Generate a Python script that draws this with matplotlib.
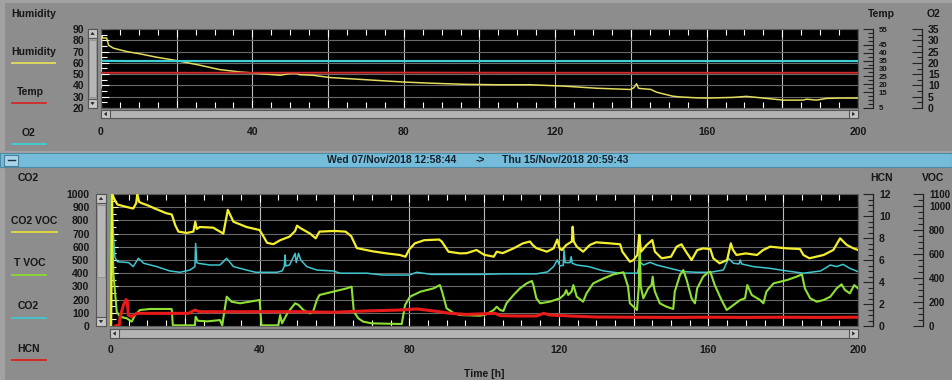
import matplotlib
matplotlib.use('Agg')
import matplotlib.pyplot as plt
from matplotlib.patches import Rectangle, Polygon
from matplotlib.lines import Line2D
from matplotlib.ticker import MultipleLocator, FixedLocator, FuncFormatter

W, H = 952, 380
plt.rcParams['font.family'] = ['Liberation Sans', 'DejaVu Sans']
plt.rcParams['font.weight'] = 'bold'
FS = 7.5
TXT = '#161616'

# ---------------- data (time in hours) ----------------
hum_t = [0, 0.15, 0.5, 1.5, 2, 3.3, 6.8, 10.3, 14.7, 20, 26, 31.4, 36.6, 43.7, 47.3, 50, 51.7,
         52.5, 56, 60.5, 69.3, 80, 87, 95.8, 104.6, 113.4, 122.2, 131, 139.9, 140.8, 141.5, 142,
         142.6, 145.2, 146.8, 148.7, 151, 153, 157.4, 160, 167, 170.5, 173.2, 177.6, 180.2, 185.5,
         186.4, 189, 191.7, 195.2, 200]
hum_v = [38, 84, 82, 82, 75.6, 73, 70, 68, 65, 62, 58, 54, 52, 50, 49, 50.6, 50.6,
         49.5, 49, 47, 45.2, 43, 42, 41, 40.6, 40.6, 39.4, 37.5, 36.4, 38, 41.5, 37.5,
         37.2, 36.5, 34, 32.4, 30.5, 29.8, 29, 28.8, 29.4, 30.3, 29.4, 27.9, 27, 27,
         27.8, 27, 28.5, 28.8, 28.8]

temp_t = [0, 40, 80, 120, 160, 200]
temp_v = [27.3, 27.3, 27.4, 27.3, 27.3, 27.3]

o2_t = [0, 6.5, 50, 100, 150, 200]
o2_v = [20.9, 20.8, 20.8, 20.8, 20.8, 20.8]

co2voc_t = [0.3, 0.6, 1.2, 2, 4, 6.2, 7, 7.3, 7.8, 8.5, 10, 12, 15, 16.5, 17.5, 18.3, 20.5, 22.3,
            22.8, 23.2, 24, 27.6, 30.3, 31.5, 33, 36.5, 40, 41, 42, 43.7, 45.5, 48, 49.5, 50, 51,
            53.5, 55, 56, 60, 63, 64.5, 66, 70.4, 74, 77.5, 79, 80, 81.5, 84, 88, 88.7, 90.5, 93.6,
            95.4, 98, 100, 102.6, 103.4, 105, 107.9, 110.4, 112.3, 113, 114, 116.8, 118.6, 119.6,
            120.2, 120.8, 122, 123.5, 123.7, 124, 124.8, 126.5, 128.3, 130, 133.7, 136.4, 137, 139,
            140, 141, 141.5, 142, 143.5, 145, 145.7, 147.5, 150, 151.5, 152.8, 154, 155.5, 157,
            158.6, 160.5, 161.3, 163, 165, 166, 166.5, 167.5, 170, 173, 174.6, 176.5, 181, 184.5,
            185.4, 187, 190.8, 193.4, 195.2, 197, 198.8, 200]
co2voc_v = [0, 1000, 960, 920, 905, 890, 930, 1000, 940, 930, 915, 890, 855, 845, 760, 715, 705, 715,
            790, 735, 750, 745, 700, 880, 790, 750, 727, 680, 630, 620, 650, 677, 720, 760, 740,
            700, 664, 715, 720, 715, 680, 590, 565, 550, 538, 525, 580, 626, 650, 655, 640, 563, 550,
            552, 576, 540, 525, 563, 552, 588, 626, 640, 614, 590, 563, 588, 655,
            590, 575, 614, 640, 752, 640, 601, 563, 614, 634, 626, 619, 563, 487,
            500, 538, 690, 563, 614, 651, 563, 513, 525, 601, 619, 563, 500, 575,
            588, 583, 513, 475, 500, 626, 580, 538, 550, 538, 575, 601, 588, 583,
            538, 513, 538, 576, 664, 614, 588, 576]

co2_t = [0.2, 0.5, 0.9, 1.3, 2, 5, 6.2, 7.6, 9, 12.5, 16, 18.7, 21.4, 22.7, 22.9, 23.2, 23.6, 26.7,
         29.4, 31.2, 33, 36.5, 39, 44.6, 46, 46.6, 46.8, 47, 48, 49.5, 49.8, 50.4, 51, 52.6, 55.3,
         59.7, 61.5, 68.6, 73, 80, 82, 86, 99, 105, 114, 117, 118.6, 119.6, 120.3, 121.2, 121.4,
         121.7, 123, 123.3, 123.6, 124.8, 128, 132, 136.4, 141, 141.7, 142.6, 144.4, 146.2, 149.7,
         153.3, 156.8, 160.5, 164, 165.4, 166.7, 168.2, 168.5, 168.9, 172, 176.4, 181, 185.4, 190,
         192.6, 194.3, 196, 197.8, 200]
co2_v = [0, 1000, 700, 520, 487, 480, 450, 513, 475, 450, 417, 407, 424, 450, 626, 480, 475, 462,
         462, 513, 450, 424, 407, 407, 417, 450, 538, 455, 462, 550, 480, 550, 500, 450, 424,
         417, 400, 400, 386, 386, 407, 391, 391, 395, 395, 410, 450, 500, 455, 460, 576,
         480, 480, 525, 475, 462, 450, 417, 400, 400, 487, 462, 482, 462, 437,
         412, 407, 407, 424, 513, 475, 470, 500, 470, 450, 437, 417, 400, 417,
         462, 450, 467, 437, 412]

tvoc_t = [0.2, 0.4, 0.9, 1.8, 2.7, 4.5, 5.8, 6.7, 8, 10.7, 16.5, 16.8, 22.7, 22.9, 23.5, 26, 29.4,
          30, 31.2, 32.5, 34.8, 40, 40.5, 45, 45.5, 46, 47.5, 49.5, 50.4, 51.7, 53.5, 54.3, 55.3,
          56, 59.7, 63.3, 64.6, 65.2, 66.4, 67.7, 70, 78, 78.9, 80.2, 83, 86.5, 88.2, 88.8, 90, 92,
          93.6, 99, 100.7, 102.6, 103.4, 104.3, 105.2, 106, 107.9, 109.6, 111.4, 112.8, 113.2, 114,
          115, 117.6, 120.3, 121.5, 122, 122.5, 123.4, 123.9, 124.8, 126.5, 127.4, 129.2, 132,
          134.6, 137.3, 138.5, 139, 140.9, 141.4, 141.6, 141.9, 142.6, 143.9, 144.8, 145.1, 145.4,
          145.7, 147, 148.8, 150.6, 151, 152.4, 153.3, 154.2, 155.5, 156.4, 157, 158.6, 160, 160.5,
          161.7, 163.5, 164.9, 166.7, 168.5, 169.8, 170.4, 171.6, 173.8, 174.7, 175.5, 177.4, 181,
          183.6, 185, 185.8, 187.2, 189, 190.8, 192.6, 194.3, 195.6, 196.5, 197.8, 199, 200]
tvoc_v = [0, 1000, 400, 108, 70, 58, 33, 83, 121, 129, 129, 5, 5, 70, 40, 35, 45,
          5, 222, 184, 172, 197, 5, 5, 83, 20, 100, 172, 160, 121, 96, 108, 197,
          235, 260, 285, 298, 108, 58, 33, 20, 15, 159, 222, 260, 285, 310, 260, 134, 96,
          83, 78, 90, 121, 146, 121, 114, 172, 235, 285, 323, 341, 310, 210,
          172, 184, 210, 240, 272, 235, 260, 310, 222, 184, 247, 323, 361,
          391, 407, 300, 172, 121, 300, 690, 300, 210, 285, 310, 374, 300,
          260, 172, 146, 129, 260, 386, 424, 348, 210, 172, 285, 374, 407, 411,
          310, 197, 121, 159, 197, 210, 310, 235, 197, 172, 260, 323, 348,
          374, 391, 285, 210, 184, 197, 222, 285, 316, 273, 247, 310, 285]

hcn_t = [1.5, 2.5, 2.7, 3.6, 4.3, 4.6, 4.9, 5.8, 7.1, 10.7, 21, 22.7, 24, 40, 50, 59.7, 68.6, 77.5,
         82, 86.5, 91, 95.3, 103, 104.3, 109, 114, 116, 117.6, 123, 130, 140, 150, 160, 170, 180,
         190, 200]
hcn_v = [0, 0.1, 0.8, 1.9, 2.4, 2.3, 1.0, 0.85, 1.15, 1.15, 1.15, 1.45, 1.3, 1.3, 1.3, 1.25, 1.37, 1.45,
         1.55, 1.37, 1.15, 1.05, 1.15, 0.94, 0.91, 0.91, 1.15, 1.0, 0.91, 0.82, 0.8, 0.78, 0.8, 0.78, 0.8,
         0.78, 0.8]

temp_ticks = [5, 15, 20, 25, 30, 35, 40, 45, 55]
o2_ticks = [0, 5, 10, 15, 20, 25, 30, 35]
hcn_ticks = [0, 2, 4, 6, 8, 10, 12]
voc_ticks = [0, 200, 400, 600, 800, 1000, 1100]
x_label_step = 40
date_from = 'Wed 07/Nov/2018 12:58:44'
date_to = 'Thu 15/Nov/2018 20:59:43'

# ---------------- figure ----------------
fig = plt.figure(figsize=(W / 100, H / 100), dpi=100)
fig.patch.set_facecolor('#a2a2a2')
PANEL = '#8d8d8d'


def box(x, y, w, h, fc, ec='none', lw=0.8, z=0):
    r = Rectangle((x / W, 1 - (y + h) / H), w / W, h / H, transform=fig.transFigure,
                  facecolor=fc, edgecolor=ec, lw=lw, zorder=z)
    fig.add_artist(r)


def tri(cx, cy, d, s=2.2):
    if d == 'up':
        pts = [(cx - s, cy + s * 0.6), (cx + s, cy + s * 0.6), (cx, cy - s * 0.7)]
    elif d == 'down':
        pts = [(cx - s, cy - s * 0.6), (cx + s, cy - s * 0.6), (cx, cy + s * 0.7)]
    elif d == 'left':
        pts = [(cx + s * 0.6, cy - s), (cx + s * 0.6, cy + s), (cx - s * 0.7, cy)]
    else:
        pts = [(cx - s * 0.6, cy - s), (cx - s * 0.6, cy + s), (cx + s * 0.7, cy)]
    p = Polygon([(x / W, 1 - y / H) for x, y in pts], closed=True, transform=fig.transFigure,
                facecolor='#202020', edgecolor='none', zorder=2)
    fig.add_artist(p)


def ftext(x, y, s, ha='left', color=TXT, size=FS):
    fig.text(x / W, 1 - y / H, s, ha=ha, va='center', fontsize=size, color=color,
             fontweight='bold')


def fline(x0, x1, y, c, lw=1.3):
    fig.add_artist(Line2D([x0 / W, x1 / W], [1 - y / H, 1 - y / H], transform=fig.transFigure,
                          color=c, lw=lw))


# panels
box(5, 3, 947, 148, PANEL, z=-5)
box(5, 168, 947, 212, PANEL, z=-5)
# blue date bar
box(0, 153, 952, 14, '#74bcd9', ec='#4d8aa5', lw=0.8, z=-4)
box(4, 154.5, 14, 11, '#a5d6ea', ec='#4d7f96', lw=0.8, z=-3)
fline(7.5, 14.5, 160.5, '#203040', lw=1.0)
ftext(327, 160.5, date_from, color='#17212b')
ftext(476, 160.5, '->', color='#17212b')
ftext(502, 160.5, date_to, color='#17212b')


def setup_main(ax, ylim, ymaj, ymin, xpad, ypad):
    ax.set_facecolor('black')
    ax.set_xlim(0, 200)
    ax.set_ylim(*ylim)
    ax.xaxis.set_major_locator(MultipleLocator(20))
    ax.xaxis.set_minor_locator(MultipleLocator(5))
    ax.xaxis.set_major_formatter(FuncFormatter(
        lambda v, p: f'{int(round(v))}' if int(round(v)) % x_label_step == 0 else ''))
    ax.yaxis.set_major_locator(MultipleLocator(ymaj))
    ax.yaxis.set_minor_locator(MultipleLocator(ymin))
    ax.tick_params(axis='both', which='both', direction='in', colors='white',
                   labelcolor=TXT, labelsize=FS)
    ax.tick_params(axis='x', which='both', top=True, bottom=True, pad=xpad)
    ax.tick_params(axis='y', which='both', left=True, right=True, pad=ypad)
    ax.tick_params(which='major', length=6, width=0.8)
    ax.tick_params(which='minor', length=4, width=0.8)
    ax.grid(axis='x', which='major', color='#bdbdbd', lw=0.8)
    ax.grid(axis='y', which='major', color='#6a6a6a', lw=0.8)
    ax.set_axisbelow(True)
    for s in ax.spines.values():
        s.set_color('#5a5a5a')
        s.set_linewidth(0.8)


def add_scale(ax, pos, ylim, majors, minor_step, size=FS):
    t = ax.twinx()
    t.set_ylim(*ylim)
    for s in ['left', 'top', 'bottom']:
        t.spines[s].set_visible(False)
    t.spines['right'].set_position(('axes', pos))
    t.spines['right'].set_color('#222222')
    t.spines['right'].set_linewidth(0.9)
    t.yaxis.set_major_locator(FixedLocator(majors))
    t.yaxis.set_minor_locator(MultipleLocator(minor_step))
    t.tick_params(axis='y', which='both', direction='in', colors='#222222',
                  labelcolor=TXT, labelsize=size, pad=4.3)
    t.tick_params(which='major', length=7, width=0.8)
    t.tick_params(which='minor', length=3.5, width=0.8)
    return t


# ---------------- top panel ----------------
ax1 = fig.add_axes([101 / W, 1 - 108 / H, 757 / W, 79 / H])
setup_main(ax1, (20, 90), 10, 5, 13.5, 12.2)
ax1.plot(hum_t, hum_v, color='#e3dc5c', lw=1.1, zorder=3)
tT = add_scale(ax1, 1.0198, (5, 55), temp_ticks, 2.5, size=5.6)
tT.plot(temp_t, temp_v, color='#d22a2a', lw=1.4)
tO = add_scale(ax1, 1.0846, (0, 35), o2_ticks, 2.5)
tO.plot(o2_t, o2_v, color='#3ccfd4', lw=1.6)

# ---------------- bottom panel ----------------
ax2 = fig.add_axes([110 / W, 1 - 326 / H, 748 / W, 132 / H])
setup_main(ax2, (0, 1000), 100, 50, 13.5, 14.8)
ax2.plot(co2_t, co2_v, color='#3fc6cf', lw=1.1, zorder=3)
ax2.plot(tvoc_t, tvoc_v, color='#8fe034', lw=1.5, zorder=3)
ax2.plot(co2voc_t, co2voc_v, color='#f4ef2e', lw=1.6, zorder=4)
tH = add_scale(ax2, 1.020, (0, 12), hcn_ticks, 0.5)
tH.plot(hcn_t, hcn_v, color='#e81a1a', lw=2.2)
tV = add_scale(ax2, 1.087, (0, 1100), voc_ticks, 50, size=7.0)
ax2.set_xlabel('Time [h]', fontsize=FS, color=TXT, fontweight='bold', labelpad=10)

# ---------------- scrollbars ----------------
EDGE = '#555555'
# top vertical
box(88, 29, 9, 79, '#a6a6a6', EDGE)
box(88.8, 40, 7.4, 57, '#b6b6b6', '#8a8a8a', lw=0.5)
box(88, 29, 9, 9, '#c6c6c6', EDGE); tri(92.5, 33.5, 'up')
box(88, 99, 9, 9, '#c6c6c6', EDGE); tri(92.5, 103.5, 'down')
# top horizontal
box(101, 110, 757, 8, '#b4b4b4', EDGE)
box(101, 110, 9, 8, '#c6c6c6', EDGE); tri(105.5, 114, 'left')
box(849, 110, 9, 8, '#c6c6c6', EDGE); tri(853.5, 114, 'right')
# bottom vertical
box(96, 194, 10, 132, '#a6a6a6', EDGE)
box(96.8, 205, 8.4, 72, '#b8b8b8', '#8a8a8a', lw=0.5)
box(96, 194, 10, 9, '#c6c6c6', EDGE); tri(101, 198.5, 'up')
box(96, 317, 10, 9, '#c6c6c6', EDGE); tri(101, 321.5, 'down')
# bottom horizontal
box(110, 329, 748, 9, '#b4b4b4', EDGE)
box(110, 329, 9, 9, '#c6c6c6', EDGE); tri(114.5, 333.5, 'left')
box(849, 329, 9, 9, '#c6c6c6', EDGE); tri(853.5, 333.5, 'right')

# ---------------- axis titles & legends ----------------
ftext(11, 14, 'Humidity')
ftext(868, 14, 'Temp')
ftext(927, 14, 'O2')
ftext(18, 178, 'CO2')
ftext(870, 178, 'HCN')
ftext(922, 178, 'VOC')

legend_top = [('Humidity', 11, 52, 63, 12, 55, '#e3dc5c'),
              ('Temp', 17, 92, 103, 12, 46, '#d22a2a'),
              ('O2', 22, 133, 144, 12, 46, '#3ccfd4')]
legend_bot = [('CO2 VOC', 11, 221, 232, 12, 57, '#e6de3a'),
              ('T VOC', 14, 263, 275, 12, 46, '#8fd834'),
              ('CO2', 18, 306, 318, 12, 46, '#3fc6cf'),
              ('HCN', 17, 349, 360, 12, 46, '#e01e1e')]
for name, tx, ty, ly, lx0, lx1, c in legend_top + legend_bot:
    ftext(tx, ty, name)
    fline(lx0, lx1, ly, c)

fig.savefig('out.png', dpi=100, facecolor=fig.get_facecolor())
